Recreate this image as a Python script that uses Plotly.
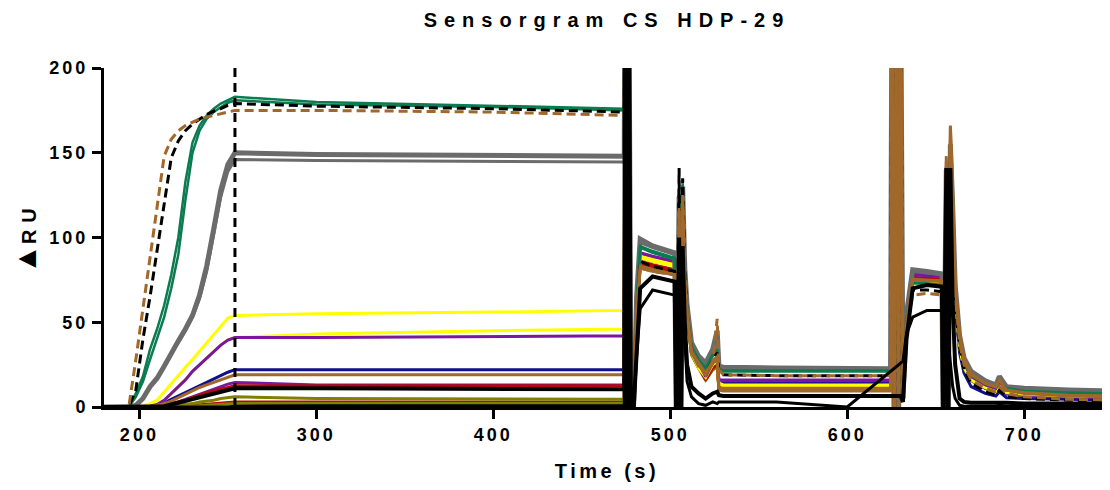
import plotly.graph_objects as go

# time points (s) shared by every curve
time_s = [180, 194, 198, 202, 206, 210, 214, 218, 222, 226, 230, 234, 238, 242, 246, 250, 254,
          300, 400, 474,
          474.4, 475.5, 476.6, 477.8,
          479.5, 481, 483, 490, 502.5,
          503.5, 505, 506, 507, 508.2,
          509.5, 512, 516, 520, 524, 526.5, 527.5, 530,
          560, 600, 624.5,
          625.3, 626.5, 627.8, 629, 630.2,
          631.5, 633.5, 637, 645, 653.5,
          654.3, 656, 657, 658.3, 659.6,
          661, 663.5, 666, 670, 678, 684, 686, 690, 700, 725, 750]

injection_end_s = 254

# response (RU), one list per curve
brown_dash = [0, 0, 28, 58, 86, 118, 148, 158, 163, 166, 168, 170, 171, 172, 173, 174, 175,
              175, 174, 172,
              260, -20, 260, -20,
              5, 50, 82, 80, 78,
              -20, 118, -20, 125, 75,
              50, 32, 24, 19, 26, 52, 22, 19,
              18.5, 18.5, 18.5,
              260, -20, 260, -20, 260,
              5, 45, 66, 67, 66,
              -20, 135, -20, 158, 120,
              65, 38, 25, 16, 11, 9, 12, 8, 6, 4.5, 4]
black_dash = [0, 0, 10, 40, 65, 92, 120, 147, 157, 163, 167, 170, 172.5, 174.5, 176, 178, 179,
              177.5, 176, 174,
              260, -20, 260, -20,
              5, 50, 86, 83, 80,
              -20, 141, -20, 135, 80,
              55, 33, 25, 20, 27, 32, 21, 19,
              18.5, 18.5, 18.5,
              260, -20, 260, -20, 260,
              5, 48, 69, 69, 68,
              -20, 135, -20, 145, 110,
              60, 35, 22, 14, 9, 7, 10, 6, 5, 4, 3.5]
green_a = [0, 0, 8, 18, 34, 46, 60, 78, 100, 133, 156, 166, 172, 176, 179, 181, 183,
           180, 177.5, 176,
           260, -20, 260, -20,
           5, 60, 95, 92, 88,
           -20, 125, -20, 132, 80,
           58, 36, 28, 23, 31, 34, 22.5, 21.5,
           21.5, 21.5, 21.5,
           260, -20, 260, -20, 260,
           5, 52, 73.5, 73, 72,
           -20, 140, -20, 152, 115,
           70, 40, 27, 19, 14, 12, 16, 11, 9.5, 8.5, 8]
green_b = [0, 0, 6, 15, 28, 40, 53, 70, 90, 122, 150, 163, 170, 174, 177, 179.5, 181,
           178.5, 177, 175,
           260, -20, 260, -20,
           5, 58, 94, 91, 87,
           -20, 123, -20, 130, 78,
           57, 35, 27, 22, 30, 33, 22, 21,
           21, 21, 21,
           260, -20, 260, -20, 260,
           5, 50, 73, 72.5, 71.5,
           -20, 138, -20, 150, 112,
           68, 39, 26, 18.5, 13.5, 11.5, 15.5, 10.5, 9, 8, 7.5]
gray_a = [0, 0, 1, 5, 12, 17, 24, 32, 39, 46, 54, 66, 83, 105, 128, 143, 150,
          149, 148.5, 148,
          260, -20, 260, -20,
          5, 65, 99, 95, 91,
          -20, 124, -20, 130, 82,
          60, 38, 30, 26, 34, 45, 24, 23.5,
          23, 23, 22.5,
          260, -20, 260, -20, 260,
          5, 55, 81, 80, 78.5,
          -20, 140, -20, 155, 118,
          72, 42, 29, 21, 15.5, 13, 18, 12, 11, 10, 9.5]
gray_b = [0, 0, 1, 5, 12, 17, 24, 31, 38, 45, 53, 64, 80, 101, 124, 139, 146,
          145.5, 145, 144.5,
          260, -20, 260, -20,
          5, 64, 97, 94, 90,
          -20, 122, -20, 128, 80,
          58, 37, 29, 25, 33, 40, 23.5, 23,
          22.5, 22.5, 22,
          260, -20, 260, -20, 260,
          5, 54, 80, 79, 78,
          -20, 138, -20, 150, 115,
          70, 41, 28, 20, 15, 12.5, 17, 11.5, 10.5, 9.5, 9]
yellow_a = [0, 0, 0, 0.5, 2, 4, 9, 14, 19, 23.5, 28, 33, 38, 43, 48, 52.5, 54,
            55, 56, 57,
            260, -20, 260, -20,
            5, 60, 89, 87, 84,
            -20, 120, -20, 125, 76,
            55, 33, 24, 18, 26, 28, 14, 13,
            13, 13, 13,
            260, -20, 260, -20, 260,
            5, 50, 75, 74.5, 74,
            -20, 132, -20, 148, 110,
            65, 36, 24, 16.5, 12, 10, 14, 9, 8, 7, 6.5]
yellow_b = [0, 0, 0, 0, 0.5, 1.5, 4, 8, 12, 16, 21, 25, 29, 33, 36.5, 39.5, 41,
            43, 45, 46,
            260, -20, 260, -20,
            5, 58, 88, 86, 83,
            -20, 118, -20, 124, 75,
            54, 32, 23, 17.5, 25, 27, 13.5, 12.5,
            12.5, 12.5, 12.5,
            260, -20, 260, -20, 260,
            5, 50, 74, 73.5, 73,
            -20, 130, -20, 146, 108,
            64, 35, 23, 16, 11.5, 9.5, 13.5, 8.5, 7.5, 6.5, 6]
purple_a = [0, 0, 0, 0, 0.5, 1.5, 4, 8, 12, 16, 21, 25, 29, 33, 36.5, 39.5, 41,
            41, 41.5, 42,
            260, -20, 260, -20,
            5, 62, 91, 89, 86,
            -20, 125, -20, 131, 80,
            58, 34, 26, 18, 26, 28, 16, 16,
            16, 16, 16,
            260, -20, 260, -20, 260,
            5, 53, 79, 78.5, 78,
            -20, 140, -20, 155, 115,
            68, 39, 26, 18, 13, 11, 15, 10, 8.5, 7.5, 7]
navy = [0, 0, 0, 0, 0.3, 1, 2.5, 4.5, 6.5, 8.5, 10.5, 12.5, 14.5, 16.5, 18.5, 20.5, 22,
        22, 22, 22,
        260, -20, 260, -20,
        5, 60, 88, 86, 84,
        -20, 120, -20, 125, 76,
        55, 32, 24, 17, 24, 26, 14.5, 14.5,
        14.5, 14.5, 14.5,
        260, -20, 260, -20, 260,
        5, 50, 75, 74.5, 74,
        -20, 140, -20, 154, 112,
        60, 32, 20, 12, 8, 6.5, 9, 5.5, 5, 4.5, 4]
brown_a = [0, 0, 0, 0, 0.3, 1, 2, 3.5, 5.5, 7.5, 9.5, 11.5, 13, 14.5, 16, 17.5, 19,
           19, 19, 19,
           260, -20, 260, -20,
           5, 56, 82, 80, 78,
           -20, 115, -20, 120, 74,
           56, 33, 26, 20, 27, 30, 11, 11,
           11, 11, 11,
           260, -20, 260, -20, 260,
           5, 48, 75, 74.5, 74,
           -20, 145, -20, 165, 125,
           72, 42, 28, 19, 14, 12, 16, 10, 8.5, 7, 6.5]
purple_b = [0, 0, 0, 0, 0, 0.5, 1, 2, 3, 4.5, 6, 7.5, 9, 10.5, 12, 13.5, 14.5,
            13, 13, 13,
            260, -20, 260, -20,
            5, 61, 90, 88, 85,
            -20, 123, -20, 128, 78,
            57, 33, 25, 17.5, 25, 27, 15.5, 15.5,
            15.5, 15.5, 15.5,
            260, -20, 260, -20, 260,
            5, 52, 78, 77.5, 77,
            -20, 142, -20, 155, 114,
            66, 37, 24, 16, 11, 9, 13, 8, 7, 6, 5.5]
red_a = [0, 0, 0, 0, 0, 0.3, 1, 2, 3, 4, 5.5, 7, 8.5, 9.5, 10.5, 11.5, 12.5,
         12.5, 12.5, 12.5,
         260, -20, 260, -20,
         5, 60, 85, 83, 80,
         -20, 121, -20, 127, 77,
         56, 32, 24, 16, 23, 25, 12, 12,
         12, 12, 12,
         260, -20, 260, -20, 260,
         5, 52, 76, 75.5, 75,
         -20, 138, -20, 152, 112,
         68, 40, 27, 18.5, 13, 11, 15, 9.5, 8.5, 7.5, 7.5]
red_b = [0, 0, 0, 0, 0, 0, 0, 0, 0.3, 0.6, 1, 1.3, 1.7, 2, 2.4, 2.7, 3,
         3, 3, 3,
         260, -20, 260, -20,
         5, 59, 86, 84, 81,
         -20, 120, -20, 126, 76,
         55, 32, 24, 16.5, 23.5, 25.5, 12.5, 12,
         12, 12, 12,
         260, -20, 260, -20, 260,
         5, 51, 76.5, 76, 75.5,
         -20, 136, -20, 150, 110,
         67, 39, 26, 18, 12.5, 10.5, 14.5, 9, 8, 7, 7]
olive_a = [0, 0, 0, 0, 0, 0, 0, 0.5, 1, 1.5, 2, 3, 3.5, 4, 5, 5.5, 6,
           5, 4.5, 4.5,
           260, -20, 260, -20,
           5, 58, 84, 82, 80,
           -20, 116, -20, 122, 74,
           54, 31, 23, 16, 22, 24, 10, 10,
           10, 10, 10,
           260, -20, 260, -20, 260,
           5, 48, 74, 73.5, 73,
           -20, 130, -20, 145, 108,
           62, 36, 23, 16, 11.5, 9.5, 13, 8, 7, 6, 5.5]
olive_b = [0, 0, 0, 0, 0, 0, 0, 0, 0, 0.3, 0.5, 0.8, 1, 1.3, 1.5, 1.8, 2,
           2, 2, 2,
           260, -20, 260, -20,
           5, 57, 83, 81, 79,
           -20, 115, -20, 121, 73,
           53, 31, 23, 16, 22, 24, 10.5, 10,
           10, 10, 10,
           260, -20, 260, -20, 260,
           5, 48, 74, 73.5, 73,
           -20, 128, -20, 144, 106,
           61, 35, 22.5, 15.5, 11, 9, 12.5, 7.5, 6.5, 5.5, 5]
brown_b = [0, 0, 0, 0, 0, 0, 0, 0, 0, 0, 0, 0, 0, 0, 0, 0, 0.5,
           0.5, 0.5, 0.5,
           260, -20, 260, -20,
           5, 57, 83, 81, 78,
           -20, 116, -20, 122, 74,
           55, 32, 25, 19, 26, 28, 10, 9.5,
           9.5, 9.5, 9.5,
           260, -20, 260, -20, 260,
           5, 48, 75.5, 75, 74.5,
           -20, 148, -20, 166, 126,
           73, 43, 29, 19.5, 14, 12, 16, 10, 8, 6.5, 6]
black_c = [0, 0, 0, 0, 0, 0, 0, 0, 0, 0, 0, 0, 0, 0, 0, 0, 0.5,
           0.8, 0.8, 0.8,
           260, -20, 260, -20,
           2, 30, 58, 69, 66,
           -20, 90, -20, 85, 40,
           15, 6, 2, 1, 3, 2, 3, 3,
           3, 0, None,
           None, None, None, None, None,
           27, 43, 53, 57, 57,
           56, 52, 40, 25, 12,
           5, 1, 0.5, 0.5, 0.5, 0.5, 1, 0.5, 0.5, 0.5, 0.5]
black_a = [0, 0, 0, 0, 0, 0, 0.5, 1.5, 2.5, 4, 5, 6, 7, 8, 9, 10, 11,
           11, 10.5, 10.5,
           260, -20, 260, -20,
           3, 30, 70, 77, 74,
           -20, 100, -20, 95, 50,
           25, 12, 8, 5, 8, 9, 7, 6.5,
           6.5, 6.5, 6.5,
           6.5, 6.5, 6.5, 6.5, 6.5,
           3, 40, 70, 72, 71,
           -20, 141, -20, 141, 60,
           25, 5, 3, 2.5, 2.5, 2.5, 3, 2.5, 2, 2, 2]

x_ticks = [200, 300, 400, 500, 600, 700]
y_ticks = [0, 50, 100, 150, 200]

# drawing order: back to front
curves = [
    (red_b, '#B40A0A', 3, 'solid'),
    (olive_b, '#808000', 3, 'solid'),
    (olive_a, '#808000', 3, 'solid'),
    (navy, '#10108A', 3, 'solid'),
    (purple_b, '#7A16A0', 3, 'solid'),
    (red_a, '#B40A0A', 3, 'solid'),
    (yellow_a, '#FFFF00', 3, 'solid'),
    (yellow_b, '#FFFF00', 3, 'solid'),
    (purple_a, '#7A16A0', 3, 'solid'),
    (gray_b, '#6B6B6B', 3, 'solid'),
    (gray_a, '#6B6B6B', 5, 'solid'),
    (green_a, '#0B7B50', 2.5, 'solid'),
    (green_b, '#0B7B50', 2.5, 'solid'),
    (black_dash, '#000000', 3, '9px,5px'),
    (brown_dash, '#A0682A', 3, '9px,5px'),
    (brown_b, '#A0682A', 3, 'solid'),
    (brown_a, '#A0682A', 3, 'solid'),
    (black_c, '#000000', 3, 'solid'),
    (black_a, '#000000', 4, 'solid'),
]

for values, _, _, _ in curves:
    assert len(values) == len(time_s)


def spaced(text, px):
    return '<span style="letter-spacing:%spx">%s</span>' % (px, text)


fig = go.Figure()
for values, color, width, dash in curves:
    fig.add_trace(go.Scatter(
        x=time_s,
        y=values,
        mode='lines',
        line=dict(color=color, width=width, dash=dash),
        connectgaps=True,
        hoverinfo='skip'
    ))

fig.add_shape(type='line', xref='x', yref='y',
              x0=injection_end_s, x1=injection_end_s, y0=0, y1=200,
              line=dict(color='black', width=3, dash='9px,6px'), layer='above')

tick_font = dict(family='Liberation Sans, Arial, sans-serif', size=18, color='black', weight='bold')
title_font = dict(family='Liberation Sans, Arial, sans-serif', size=20, color='black', weight='bold')

# the page body keeps its 8px default margin, so the figure is sized to fit inside it
fig.update_layout(
    width=1102,
    height=482,
    margin=dict(l=96, r=0, t=60, b=83),
    plot_bgcolor='white',
    paper_bgcolor='white',
    showlegend=False,
    title=dict(text=spaced('Sensorgram CS HDP-29', 7), x=0.5, xref='paper', xanchor='center',
               y=1 - 12 / 482, yref='container', yanchor='middle', font=title_font),
    xaxis=dict(
        range=[180, 748.5],
        automargin=False,
        showgrid=False,
        zeroline=False,
        showline=True,
        linewidth=3,
        linecolor='black',
        ticks='outside',
        ticklen=9,
        tickwidth=3,
        tickcolor='black',
        tickvals=x_ticks,
        ticktext=[spaced(t, 3) for t in x_ticks],
        tickfont=tick_font,
        title=dict(text=spaced('Time (s)', 3.5), font=title_font, standoff=21)
    ),
    yaxis=dict(
        range=[0, 200],
        automargin=False,
        showgrid=False,
        zeroline=False,
        showline=True,
        linewidth=3,
        linecolor='black',
        ticks='outside',
        ticklen=9,
        tickwidth=3,
        tickcolor='black',
        tickvals=y_ticks,
        ticktext=[spaced(t, 3) for t in y_ticks],
        tickfont=tick_font,
        title=dict(text='<span style="font-size:30px">▲</span>' + spaced('RU', 7),
                   font=title_font, standoff=8)
    )
)

fig.write_html("out.html")
